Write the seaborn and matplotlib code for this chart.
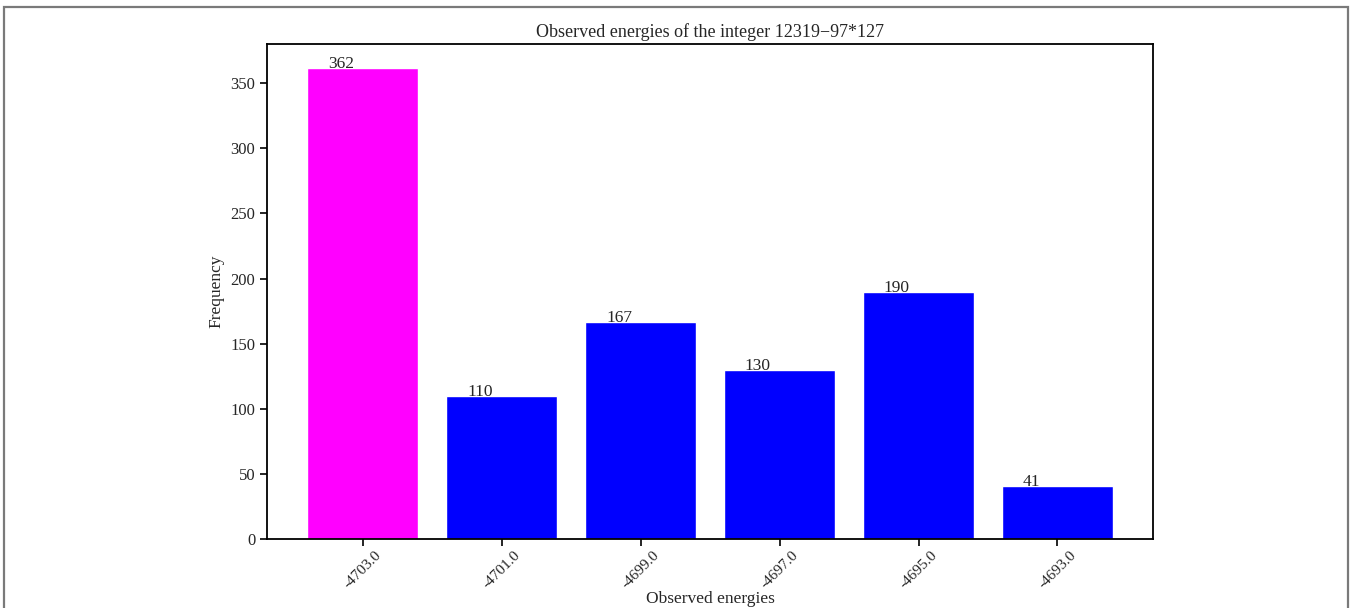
import matplotlib
matplotlib.use("Agg")
import matplotlib.pyplot as plt
import seaborn as sns
from matplotlib.patches import Rectangle

# Observed energy levels and how often each was seen
energies = ["-4703.0", "-4701.0", "-4699.0", "-4697.0", "-4695.0", "-4693.0"]
counts = [362, 110, 167, 130, 190, 41]
bar_colors = ["#ff00ff", "#0000ff", "#0000ff", "#0000ff", "#0000ff", "#0000ff"]

sns.set_style("ticks")
plt.rcParams["font.family"] = ["Liberation Serif", "DejaVu Serif"]

fig = plt.figure(figsize=(13.52, 6.08), dpi=100)
ax = fig.add_axes([0.1975, 0.1135, 0.6555, 0.8141])

sns.barplot(x=energies, y=counts, hue=energies, palette=bar_colors, order=energies,
            legend=False, width=0.8, saturation=1, ax=ax)
# matplotlib's default bar margins instead of seaborn's tight ones
ax.set_xlim(-0.69, len(energies) - 1 + 0.69)

for i, v in enumerate(counts):
    ax.text(i - 0.25, v, str(v), ha="left", va="baseline", fontsize=12.5)

ax.set_title("Observed energies of the integer 12319\u221297*127", fontsize=13, pad=5)
ax.set_xlabel("Observed energies", fontsize=12.5)
ax.xaxis.set_label_coords(0.5, -0.106)
ax.set_ylabel("Frequency", fontsize=12.5)
ax.tick_params(axis="both", labelsize=12, color="black", width=1.2, length=5)
ax.tick_params(axis="x", labelsize=11, pad=2)
plt.setp(ax.get_xticklabels(), rotation=45)
for s in ax.spines.values():
    s.set_color("black")
    s.set_linewidth(1.3)

# gray frame around the figure, as in the source image
fig.patches.append(Rectangle((4 / 1352, -0.01), 1344 / 1352, 1 - 7 / 608 + 0.01,
                             transform=fig.transFigure, fill=False,
                             edgecolor="#7a7a7a", linewidth=1.6))

fig.savefig("out.png", dpi=100)
